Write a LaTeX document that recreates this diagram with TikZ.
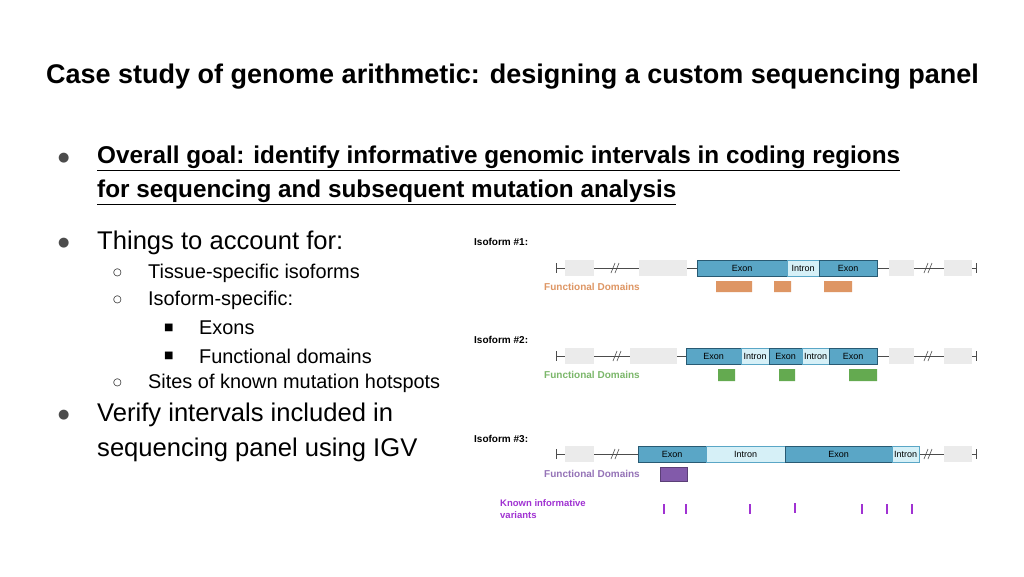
\documentclass[tikz,border=0pt]{standalone}
\usepackage{fontspec}
\setmainfont{Liberation Sans}
\newfontfamily\sym{DejaVu Sans}
\definecolor{exonc}{RGB}{90,166,198}
\definecolor{exond}{RGB}{40,90,115}
\definecolor{intronc}{RGB}{214,240,247}
\definecolor{orc}{RGB}{222,150,100}
\definecolor{grc}{RGB}{100,170,80}
\definecolor{puc}{RGB}{130,90,170}
\definecolor{vac}{RGB}{160,50,210}
\begin{document}
\begin{tikzpicture}[x=1pt,y=-1pt,
 txt/.style={anchor=west,inner sep=0pt},
 grey/.style={fill=black!8,draw=none},
 exon/.style={fill=exonc,draw=exond,line width=0.7pt,font=\fontsize{9}{10}\selectfont},
 intron/.style={fill=intronc,draw=exonc,line width=0.5pt,font=\fontsize{9}{10}\selectfont},
 lbl/.style={anchor=west,inner sep=0pt,font=\bfseries\fontsize{10}{12}\selectfont},
 gline/.style={draw=black!70,line width=0.8pt}]
\useasboundingbox (0,0) rectangle (1024,576);
\fill[white] (0,0) rectangle (1024,576);
\node[txt,font=\bfseries\fontsize{27}{31}\selectfont] (title) at (46,77) {Case study of genome arithmetic: designing a custom sequencing panel};
\node[txt,font=\sym\fontsize{13}{15}\selectfont,text=black!70] (b1) at (58,158) {●};
\node[txt,font=\bfseries\fontsize{24.3}{28}\selectfont] (g1) at (97,158) {\underline{Overall goal: identify informative genomic intervals in coding regions}};
\node[txt,font=\bfseries\fontsize{24.3}{28}\selectfont] (g2) at (97,192) {\underline{for sequencing and subsequent mutation analysis}};
\node[txt,font=\sym\fontsize{13}{15}\selectfont,text=black!70] (b2) at (58,243) {●};
\node[txt,font=\fontsize{25.6}{29}\selectfont] (t1) at (97,243) {Things to account for:};
\node[txt,font=\sym\fontsize{10}{12}\selectfont] (c1) at (113,273) {○};
\node[txt,font=\fontsize{19.9}{23}\selectfont] (t2) at (148,273) {Tissue-specific isoforms};
\node[txt,font=\sym\fontsize{10}{12}\selectfont] (c2) at (113,300) {○};
\node[txt,font=\fontsize{19.9}{23}\selectfont] (t3) at (148,300) {Isoform-specific:};
\node[txt,font=\sym\fontsize{10}{12}\selectfont] (s1) at (164,328) {■};
\node[txt,font=\fontsize{19.9}{23}\selectfont] (t4) at (199,328) {Exons};
\node[txt,font=\sym\fontsize{10}{12}\selectfont] (s2) at (164,356) {■};
\node[txt,font=\fontsize{19.9}{23}\selectfont] (t5) at (199,356) {Functional domains};
\node[txt,font=\sym\fontsize{10}{12}\selectfont] (c3) at (113,383) {○};
\node[txt,font=\fontsize{19.9}{23}\selectfont] (t6) at (148,383) {Sites of known mutation hotspots};
\node[txt,font=\sym\fontsize{13}{15}\selectfont,text=black!70] (b3) at (58,415) {●};
\node[txt,font=\fontsize{25.6}{29}\selectfont] (t7) at (97,415) {Verify intervals included in};
\node[txt,font=\fontsize{25.6}{29}\selectfont] (t8) at (97,450) {sequencing panel using IGV};
% gene rows
\newcommand\generow[1]{%
 \draw[gline] (556,#1) -- (976,#1);
 \draw[gline] (556,#1-5) -- (556,#1+5);
 \draw[gline] (976,#1-5) -- (976,#1+5);}
\newcommand\brk[2]{\draw[gline,line width=0.6pt] (#1-4,#2+5) -- (#1,#2-5) (#1,#2+5) -- (#1+4,#2-5);}
% Isoform 1
\node[lbl] (i1) at (474,242) {Isoform \#1:};
\generow{268}
\brk{615}{268}
\brk{928}{268}
\fill[grey] (565,260) rectangle (594,276);
\fill[grey] (639,260) rectangle (687,276);
\fill[grey] (889,260) rectangle (914,276);
\fill[grey] (944,260) rectangle (972,276);
\node[exon,minimum width=90,minimum height=16,inner sep=0pt] (e11) at (742,268) {Exon};
\node[intron,minimum width=32,minimum height=16,inner sep=0pt] (n11) at (803,268) {Intron};
\node[exon,minimum width=58,minimum height=16,inner sep=0pt] (e12) at (848,268) {Exon};
\node[lbl,text=orc] (f1) at (544,287) {Functional Domains};
\fill[orc] (716,281) rectangle (752,292) (774,281) rectangle (791,292) (824,281) rectangle (852,292);
% Isoform 2
\node[lbl] (i2) at (474,340) {Isoform \#2:};
\generow{356}
\brk{617}{356}
\brk{928}{356}
\fill[grey] (565,348) rectangle (594,364);
\fill[grey] (630,348) rectangle (677,364);
\fill[grey] (889,348) rectangle (914,364);
\fill[grey] (944,348) rectangle (972,364);
\node[exon,minimum width=55,minimum height=16,inner sep=0pt] (e21) at (713.5,356) {Exon};
\node[intron,minimum width=28,minimum height=16,inner sep=0pt] (n21) at (755,356) {Intron};
\node[exon,minimum width=33,minimum height=16,inner sep=0pt] (e22) at (785.5,356) {Exon};
\node[intron,minimum width=27,minimum height=16,inner sep=0pt] (n22) at (815.5,356) {Intron};
\node[exon,minimum width=48,minimum height=16,inner sep=0pt] (e23) at (853,356) {Exon};
\node[lbl,text=grc!85!white] (f2) at (544,375) {Functional Domains};
\fill[grc] (718,369) rectangle (735,381) (779,369) rectangle (795,381) (849,369) rectangle (877,381);
% Isoform 3
\node[lbl] (i3) at (474,439) {Isoform \#3:};
\generow{454}
\brk{615}{454}
\brk{928}{454}
\fill[grey] (565,446) rectangle (594,462);
\fill[grey] (944,446) rectangle (972,462);
\node[exon,minimum width=68,minimum height=16,inner sep=0pt] (e31) at (672,454) {Exon};
\node[intron,minimum width=79,minimum height=16,inner sep=0pt] (n31) at (745.5,454) {Intron};
\node[exon,minimum width=107,minimum height=16,inner sep=0pt] (e32) at (838.5,454) {Exon};
\node[intron,minimum width=27,minimum height=16,inner sep=0pt] (n32) at (905.5,454) {Intron};
\node[lbl,text=puc!85!white] (f3) at (544,474) {Functional Domains};
\fill[puc,draw=puc!70!black,line width=0.3pt] (660,467) rectangle (687,481);
\node[lbl,text=vac,align=left,font=\bfseries\fontsize{9.5}{12}\selectfont] (kv) at (500,509) {Known informative\\variants};
\foreach \x/\y in {664/509,686/509,750/509,795/508,862/509,887/509,912/509}
 \fill[vac] (\x-1.2,\y-5) rectangle (\x+1.2,\y+5);
\end{tikzpicture}
\end{document}
